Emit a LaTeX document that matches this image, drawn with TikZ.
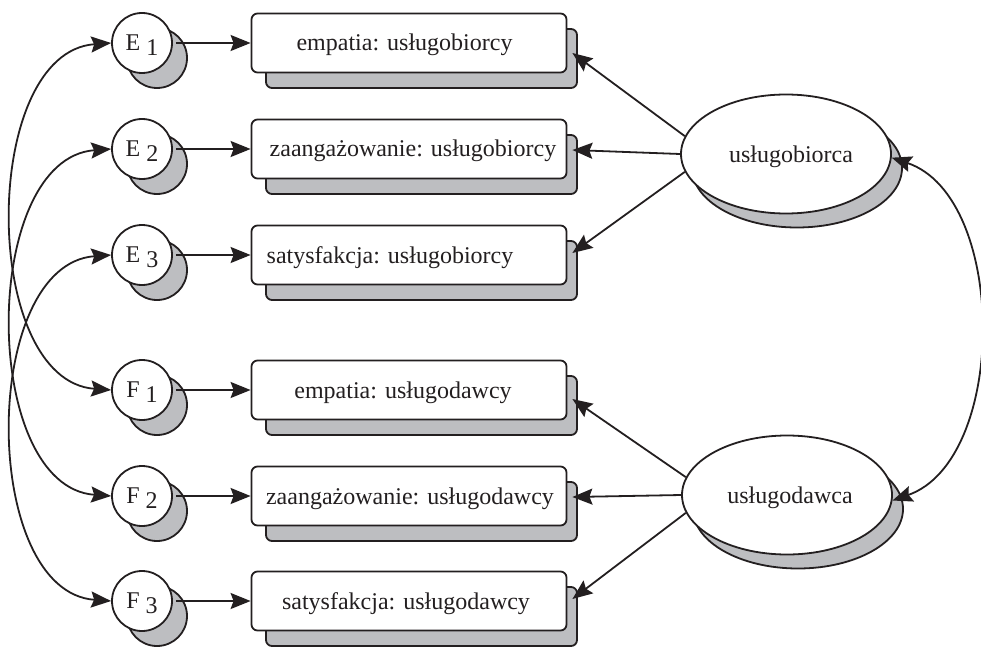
\documentclass[tikz,border=0pt]{standalone}
\usepackage{fontspec}
\setmainfont{Liberation Serif}
\usetikzlibrary{arrows.meta,shapes.geometric,calc}
\definecolor{ink}{RGB}{35,31,32}
\definecolor{shade}{RGB}{189,190,193}
\newcommand\shtext[2]{\kern#1\relax#2\kern-#1\relax}
\newcommand\idx[2]{#1 \raisebox{-5pt}[0pt][0pt]{#2}}
\begin{document}
\begin{tikzpicture}[x=1pt,y=-1pt,line width=1.8pt,
  font=\fontsize{24}{28}\selectfont, text=ink,
  lat/.style={circle,draw=ink,fill=white,minimum size=60pt,inner sep=0pt},
  latsh/.style={lat,fill=shade},
  obs/.style={rectangle,rounded corners=6pt,draw=ink,fill=white,minimum width=315pt,minimum height=59pt,inner sep=0pt,text height=19pt,text depth=3pt},
  obssh/.style={obs,fill=shade,minimum width=311pt},
  fac/.style={ellipse,draw=ink,fill=white,minimum width=210pt,minimum height=119pt,inner sep=0pt,text height=19pt,text depth=3pt},
  facsh/.style={fac,fill=shade},
  tip/.tip={Stealth[length=20pt,width=16pt,inset=3pt]},
  arr/.style={draw=ink,-tip},
  dbl/.style={draw=ink,tip-tip}]
\useasboundingbox (0,0) rectangle (981,647);
% shadows
\foreach \y/\n in {43/a,149/b,255/c,390/d,496/e,601/f}{
  \node[latsh] (cs\n) at (157,\y+15) {};
  \node[obssh] (bs\n) at (421.5,\y+15.5) {};
}
\node[facsh] (us1) at (797,168) {};
\node[facsh] (us2) at (798,509) {};
% latent error circles
\node[lat] (E1) at (142,43) {\idx{E}{1}};
\node[lat] (E2) at (142,149) {\idx{E}{2}};
\node[lat] (E3) at (142,255) {\idx{E}{3}};
\node[lat] (F1) at (142,390) {\idx{F}{1}};
\node[lat] (F2) at (142,496) {\idx{F}{2}};
\node[lat] (F3) at (142,601) {\idx{F}{3}};
% observed boxes
\node[obs] (b1) at (409,43) {\shtext{-4.5pt}{empatia: usługobiorcy}};
\node[obs] (b2) at (409,149) {\shtext{4pt}{zaangażowanie: usługobiorcy}};
\node[obs] (b3) at (409,255) {\shtext{-19pt}{satysfakcja: usługobiorcy}};
\node[obs] (b4) at (409,390) {\shtext{-6pt}{empatia: usługodawcy}};
\node[obs] (b5) at (409,496) {\shtext{1pt}{zaangażowanie: usługodawcy}};
\node[obs] (b6) at (409,601) {\shtext{-3pt}{satysfakcja: usługodawcy}};
% factors
\node[fac] (u1) at (786,154) {\shtext{5pt}{usługobiorca}};
\node[fac] (u2) at (787,495) {\shtext{3pt}{usługodawca}};
% error arrows
\foreach \a/\b in {E1/b1,E2/b2,E3/b3,F1/b4,F2/b5,F3/b6}
  \draw[arr] ($(\a.east)+(3,0)$) -- (\b.west);
% loadings
\draw[arr] (u1.170) -- ($(b1.east)+(5,10)$);
\draw[arr] (u1.west) -- ($(b2.east)+(5,1)$);
\draw[arr] (u1.190) -- ($(b3.east)+(5,-2)$);
\draw[arr] (u2.170) -- ($(b4.east)+(5,9)$);
\draw[arr] (u2.west) -- ($(b5.east)+(5,1)$);
\draw[arr] (u2.190) -- ($(b6.east)+(5,-2)$);
% covariances
\draw[dbl] (E1.west) .. controls (-20,52.5) and (-20,380.5) .. (F1.west);
\draw[dbl] (E2.west) .. controls (-20,158.5) and (-20,486.5) .. (F2.west);
\draw[dbl] (E3.west) .. controls (-20,264.5) and (-20,591.5) .. (F3.west);
\draw[dbl] (u1.-2) .. controls (1008,197) and (1008,460) .. (u2.-3);
\end{tikzpicture}
\end{document}
